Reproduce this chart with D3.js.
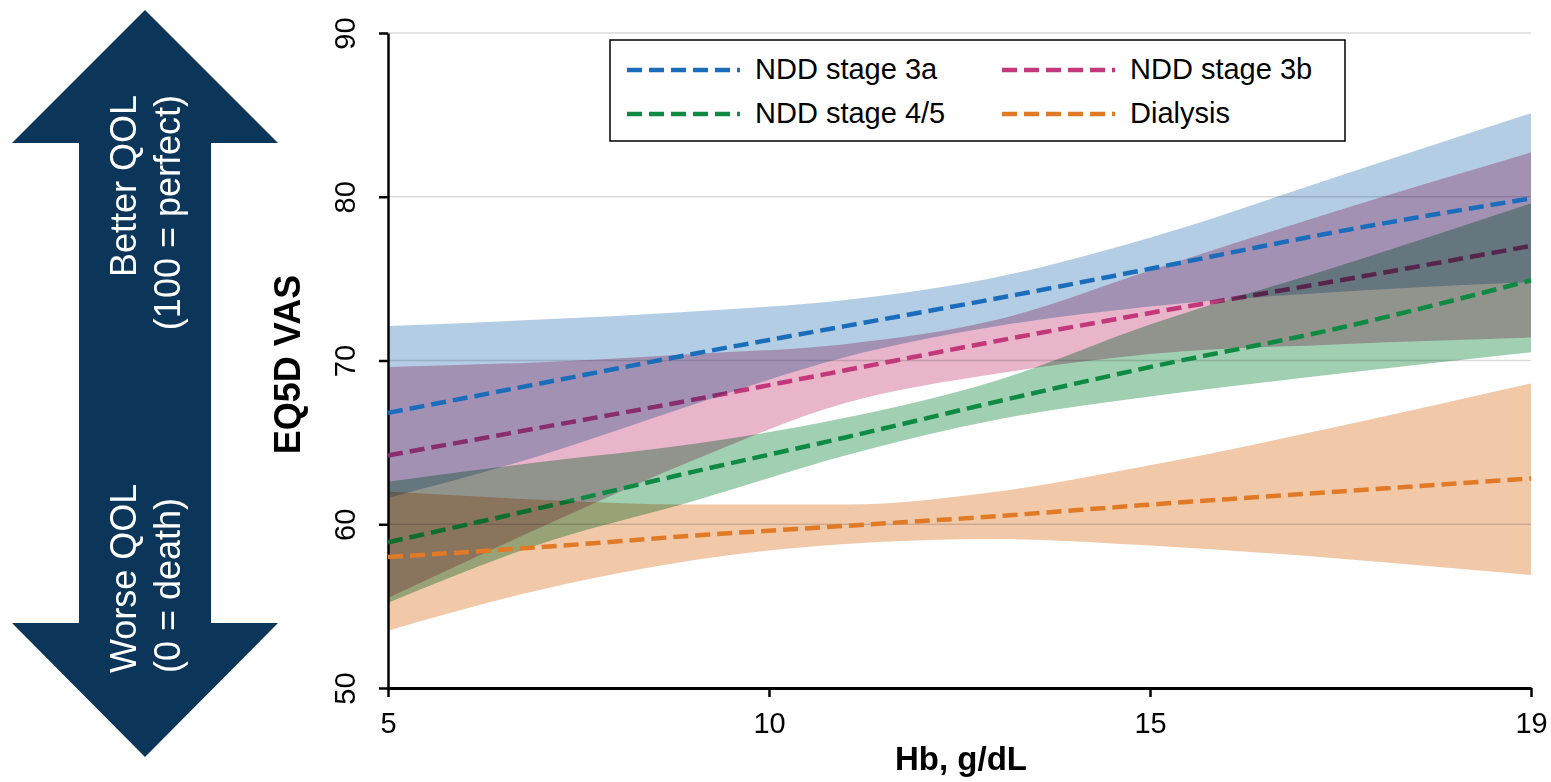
<!DOCTYPE html>
<html>
<head>
<meta charset="utf-8">
<script src="https://cdn.jsdelivr.net/npm/d3@7"></script>
<style>
  body { margin: 0; background: #fff; }
  svg { font-family: "Liberation Sans", Arial, sans-serif; }
</style>
</head>
<body>
<div class="content"></div>
<script>
const hb = [5, 7, 9, 11, 13, 15, 17, 19];

const stage3a   = [66.8, 68.6, 70.4, 72.1, 73.8, 75.6, 77.9, 79.9];
const stage3aHi = [72.1, 72.5, 73.0, 73.7, 75.1, 77.5, 81.3, 85.1];
const stage3aLo = [61.6, 64.2, 67.3, 70.2, 72.1, 73.3, 74.2, 74.8];

const stage3b   = [64.2, 65.9, 67.6, 69.4, 71.2, 72.9, 74.9, 77.0];
const stage3bHi = [69.6, 69.9, 70.4, 71.0, 72.5, 75.5, 79.2, 82.7];
const stage3bLo = [55.5, 59.8, 63.9, 67.4, 69.2, 70.4, 71.0, 71.4];

const stage45   = [58.9, 61.0, 63.2, 65.3, 67.5, 69.6, 72.0, 74.9];
const stage45Hi = [62.6, 63.8, 64.9, 66.5, 68.8, 72.2, 75.8, 79.6];
const stage45Lo = [55.2, 58.8, 61.4, 64.2, 66.4, 67.8, 69.2, 70.5];

const dialysis   = [58.0, 58.6, 59.3, 59.9, 60.5, 61.2, 62.0, 62.8];
const dialysisHi = [62.0, 61.5, 61.2, 61.2, 62.0, 63.6, 66.0, 68.6];
const dialysisLo = [53.5, 56.0, 57.8, 58.8, 59.1, 58.7, 57.9, 56.9];

const xTicks = [5, 10, 15, 19];
const yTicks = [50, 60, 70, 80, 90];
const legendNames = ["NDD stage 3a", "NDD stage 3b", "NDD stage 4/5", "Dialysis"];

const width = 1551, height = 782;

const svg = d3.select('.content')
    .append('svg')
    .attr('width', width)
    .attr('height', height);

// the tick labels are evenly spaced even though 15 -> 19 is shorter
const x = d3.scaleLinear()
    .domain([5, 10, 15, 19])
    .range([388, 769, 1150, 1531]);

const y = d3.scaleLinear()
    .domain([50, 90])
    .range([688, 33]);

// QOL arrow on the left
const arrowPts = [[145,10],[278,143],[211,143],[211,623],[278,623],[145,757],[12,623],[79,623],[79,143],[12,143]];
svg.append("polygon")
    .attr("points", arrowPts.map(p => p.join(",")).join(" "))
    .attr("fill", "#0b3559");

const arrowText = [
    { t: "Better QOL", x: 136, y: 95, a: "end" },
    { t: "(100 = perfect)", x: 180, y: 95, a: "end" },
    { t: "Worse QOL", x: 136, y: 673, a: "start" },
    { t: "(0 = death)", x: 180, y: 673, a: "start" }
];
svg.selectAll(".arrowText")
    .data(arrowText)
    .enter().append("text")
    .attr("class", "arrowText")
    .attr("transform", d => `translate(${d.x},${d.y}) rotate(-90)`)
    .attr("text-anchor", d => d.a)
    .attr("font-size", 36)
    .attr("fill", "#fff")
    .text(d => d.t);

// gridlines
svg.selectAll(".grid")
    .data(yTicks.slice(1))
    .enter().append("line")
    .attr("class", "grid")
    .attr("x1", x(5)).attr("x2", x(19))
    .attr("y1", d => y(d)).attr("y2", d => y(d))
    .attr("stroke", "#d9d9d9")
    .attr("stroke-width", 1.5);

// y axis
svg.append("g")
    .attr("transform", `translate(${x(5)},0)`)
    .call(d3.axisLeft(y).tickValues(yTicks).tickSize(9).tickSizeOuter(0))
    .call(g => g.select('.domain').attr("stroke-width", 2.5))
    .call(g => g.selectAll('line').attr("stroke-width", 2.5))
    .call(g => g.selectAll('text')
        .attr("transform", "rotate(-90)")
        .attr("text-anchor", "middle")
        .attr("x", 0).attr("y", -33).attr("dy", 0)
        .attr("font-size", 29).attr("fill", "#000")
        .attr("font-family", "Liberation Sans, Arial, sans-serif"));

// x axis
svg.append("g")
    .attr("transform", `translate(0,${y(50)})`)
    .call(d3.axisBottom(x).tickValues(xTicks).tickSize(9).tickSizeOuter(0))
    .call(g => g.select('.domain').attr("stroke-width", 3))
    .call(g => g.selectAll('line').attr("stroke-width", 2.5))
    .call(g => g.selectAll('text')
        .attr("y", 45).attr("dy", 0)
        .attr("font-size", 29).attr("fill", "#000")
        .attr("font-family", "Liberation Sans, Arial, sans-serif"));

// axis titles
svg.append("text")
    .attr("transform", `translate(300,${(y(50)+y(90))/2 + 4}) rotate(-90)`)
    .attr("text-anchor", "middle")
    .attr("font-size", 36)
    .attr("font-weight", "bold")
    .text("EQ5D VAS");

svg.append("text")
    .attr("x", 961)
    .attr("y", 770)
    .attr("text-anchor", "middle")
    .attr("font-size", 33)
    .attr("font-weight", "bold")
    .text("Hb, g/dL");

const pts = (vals) => hb.map((h, i) => [h, vals[i]]);
const band = (lo, hi) => hb.map((h, i) => ({ h: h, lo: lo[i], hi: hi[i] }));

const area = d3.area()
    .x(d => x(d.h))
    .y0(d => y(d.lo))
    .y1(d => y(d.hi))
    .curve(d3.curveMonotoneX);

const line = d3.line()
    .x(d => x(d[0]))
    .y(d => y(d[1]))
    .curve(d3.curveMonotoneX);

const groups = [
    { name: "3a", mid: stage3a, lo: stage3aLo, hi: stage3aHi, line: "#1a6dbb", fill: "#b3cde4" },
    { name: "3b", mid: stage3b, lo: stage3bLo, hi: stage3bHi, line: "#c2387a", fill: "#e8b5ca" },
    { name: "45", mid: stage45, lo: stage45Lo, hi: stage45Hi, line: "#0f8a43", fill: "#a0cfb2" },
    { name: "dia", mid: dialysis, lo: dialysisLo, hi: dialysisHi, line: "#e07a27", fill: "#f1c9a9" }
];
const g3a = groups[0], g3b = groups[1], g45 = groups[2], gDia = groups[3];

const plot = svg.append("g");

function drawBand(gr) {
    plot.append("path")
        .datum(band(gr.lo, gr.hi))
        .attr("d", area)
        .attr("fill", gr.fill)
        .style("mix-blend-mode", "multiply");
}
function drawLine(gr) {
    plot.append("path")
        .datum(pts(gr.mid))
        .attr("d", line)
        .attr("fill", "none")
        .attr("stroke", gr.line)
        .attr("stroke-width", 4.5)
        .attr("stroke-dasharray", "15,7");
}

// layering
drawBand(g3b);
drawLine(g3b);
drawBand(g3a);
drawBand(g45);
drawLine(g3a);
drawLine(g45);
drawBand(gDia);
drawLine(gDia);

// legend
const legend = svg.append("g");
legend.append("rect")
    .attr("x", 610).attr("y", 40)
    .attr("width", 735).attr("height", 101)
    .attr("fill", "#fff")
    .attr("stroke", "#000")
    .attr("stroke-width", 1.5);

const legendPos = [[627, 70], [1002, 70], [627, 114], [1002, 114]];
legendNames.forEach((n, i) => {
    const [lx, ly] = legendPos[i];
    legend.append("line")
        .attr("x1", lx).attr("x2", lx + 113)
        .attr("y1", ly).attr("y2", ly)
        .attr("stroke", groups[i].line)
        .attr("stroke-width", 4.5)
        .attr("stroke-dasharray", "15,7");
    legend.append("text")
        .attr("x", lx + 128)
        .attr("y", ly + 9)
        .attr("font-size", 29)
        .text(n);
});
</script>
</body>
</html>
